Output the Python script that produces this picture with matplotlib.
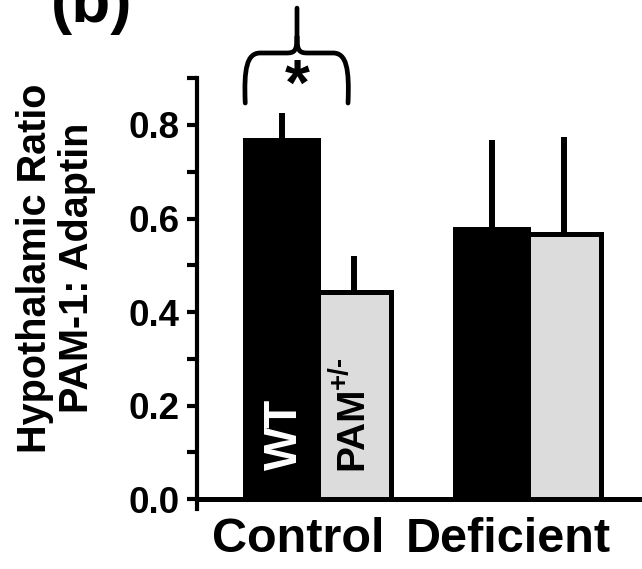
import matplotlib
matplotlib.use("Agg")
import matplotlib.pyplot as plt
from matplotlib.path import Path
from matplotlib.patches import PathPatch
from matplotlib.transforms import ScaledTranslation

plt.rcParams['font.family'] = ['Liberation Sans', 'DejaVu Sans']
plt.rcParams['font.weight'] = 'bold'

# ---- data ----
groups = ["Control", "Deficient"]
wt_mean = [0.768, 0.578]
wt_err = [0.058, 0.190]
pam_mean = [0.442, 0.567]
pam_err = [0.078, 0.208]
y_ticks = [0.0, 0.2, 0.4, 0.6, 0.8]
y_tick_labels = ["0.0", "0.2", "0.4", "0.6", "0.8"]
y_minor = [0.1, 0.3, 0.5, 0.7, 0.9]

group_pos = [0.0, 2.8]
bw = 0.97

fig = plt.figure(figsize=(6.42, 5.69), dpi=100)
ax = fig.add_axes([0.3069, 0.1049, 0.6931, 0.7576])

wt_x = [g - bw / 2 for g in group_pos]
pam_x = [g + bw / 2 for g in group_pos]

ax.bar(pam_x, pam_mean, width=bw, color="#dcdcdc", edgecolor="black", linewidth=3.6, zorder=2)
ax.bar(wt_x, wt_mean, width=bw, color="black", edgecolor="black", linewidth=3.6, zorder=3)
ax.errorbar(wt_x, wt_mean, yerr=[[0, 0], wt_err], fmt="none", ecolor="black", elinewidth=4.3, capsize=0, zorder=1)
ax.errorbar(pam_x, pam_mean, yerr=[[0, 0], pam_err], fmt="none", ecolor="black", elinewidth=4.3, capsize=0, zorder=1)

ax.set_xlim(-1.613, 4.32)
ax.set_ylim(-0.022, 0.9)

for s in ["top", "right"]:
    ax.spines[s].set_visible(False)
ax.spines["left"].set_linewidth(3.0)
ax.spines["bottom"].set_linewidth(3.6)
ax.spines["bottom"].set_position(("data", 0))
ax.spines["bottom"].set_zorder(4)

ax.set_yticks(y_ticks)
ax.set_yticklabels(y_tick_labels, fontsize=26.5, fontweight="bold")
ax.set_yticks(y_minor, minor=True)
ax.tick_params(axis="y", which="both", direction="out", length=7.5, width=3.0, pad=5)

ax.set_xticks(group_pos)
ax.set_xticklabels(groups, fontsize=35, fontweight="bold")
ax.tick_params(axis="x", length=0, pad=13)
for lab in ax.get_xticklabels():
    lab.set_transform(lab.get_transform() + ScaledTranslation(-0.2, 0, fig.dpi_scale_trans))

# inner labels
ax.text(wt_x[0] + 0.05, 0.062, "WT", rotation=90, color="white", fontsize=33,
        fontweight="bold", ha="center", va="bottom", zorder=5)
ax.text(pam_x[0] - 0.03, 0.062, "PAM", rotation=90, color="black", fontsize=28,
        fontweight="bold", ha="center", va="bottom", zorder=5)
ax.text(pam_x[0] - 0.19, 0.236, "+/-", rotation=90, color="black", fontsize=20,
        fontweight="bold", ha="center", va="bottom", zorder=5)

# brace
xl = wt_x[0] - bw / 2
xr = 0.4
xm = -0.28
yb, yh, yp = 0.847, 0.954, 1.05
verts = [
    (xl, yb), (xl - 0.02, 0.92), (xl + 0.02, yh), (xl + 0.2, yh),
    (xm - 0.14, yh),
    (xm - 0.03, yh), (xm, yh + 0.005), (xm, yh + 0.035),
    (xm, yp),
    (xm, yh + 0.035), (xm, yh + 0.005), (xm + 0.03, yh), (xm + 0.14, yh),
    (xr - 0.2, yh),
    (xr - 0.02, yh), (xr + 0.02, 0.92), (xr, yb),
]
codes = [
    Path.MOVETO, Path.CURVE4, Path.CURVE4, Path.CURVE4,
    Path.LINETO,
    Path.CURVE4, Path.CURVE4, Path.CURVE4,
    Path.LINETO,
    Path.MOVETO, Path.CURVE4, Path.CURVE4, Path.CURVE4,
    Path.LINETO,
    Path.CURVE4, Path.CURVE4, Path.CURVE4,
]
ax.add_patch(PathPatch(Path(verts, codes), facecolor="none", edgecolor="black",
                       linewidth=3.4, capstyle="round", joinstyle="round", clip_on=False))
ax.text(xm, 0.88, "*", fontsize=46, fontweight="bold", ha="center", va="center", clip_on=False)

fig.text(0.087, 0.529, "Hypothalamic Ratio\nPAM-1: Adaptin", rotation=90, ha="center", va="center",
         fontsize=28.5, fontweight="bold", multialignment="center", linespacing=1.12)
fig.text(0.080, 0.962, "(b)", fontsize=46, fontweight="bold", ha="left", va="baseline")

fig.savefig("out.png", dpi=100)
